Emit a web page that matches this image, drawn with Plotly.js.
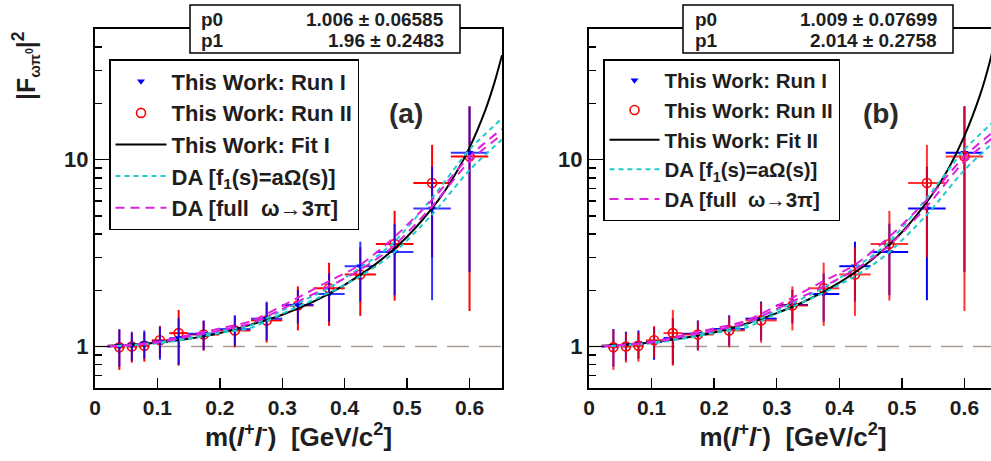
<!DOCTYPE html>
<html><head><meta charset="utf-8">
<script src="https://cdn.plot.ly/plotly-3.0.1.min.js"></script>
<style>html,body{margin:0;padding:0;overflow:hidden;background:#fff}#chart{width:1000px;height:461px}</style>
</head><body><div id="chart"></div>
<script>
// ---- data ----
const mass      = [0.039, 0.059, 0.079, 0.104, 0.134, 0.174, 0.224, 0.275, 0.325, 0.375, 0.425, 0.480, 0.540, 0.600];
const massErr   = [0.008, 0.008, 0.008, 0.013, 0.015, 0.025, 0.025, 0.025, 0.025, 0.025, 0.025, 0.030, 0.030, 0.030];
const runI      = [1.01, 1.02, 1.04, 1.06, 1.11, 1.17, 1.24, 1.41, 1.67, 1.91, 2.69, 3.21, 5.47, 10.9];
const runIErr   = [0.23, 0.18, 0.18, 0.21, 0.31, 0.21, 0.23, 0.33, 0.34, 0.55, 0.95, 1.33, 3.70, 8.4];
const runII     = [0.99, 1.00, 1.01, 1.08, 1.18, 1.16, 1.22, 1.38, 1.66, 2.05, 2.43, 3.54, 7.50, 10.4];
const runIIErr  = [0.24, 0.18, 0.18, 0.21, 0.39, 0.21, 0.23, 0.33, 0.44, 0.76, 0.97, 1.78, 4.50, 8.85];

const fitX      = [0.02, 0.05, 0.10, 0.15, 0.20, 0.25, 0.30, 0.35, 0.40, 0.45, 0.50, 0.55, 0.575, 0.60, 0.625, 0.64, 0.652];
const fitI      = [1.01, 1.02, 1.05, 1.10, 1.18, 1.31, 1.48, 1.74, 2.14, 2.77, 3.87, 6.07, 8.12, 11.6, 18.3, 25.9, 36.2];
const fitII     = [1.01, 1.02, 1.05, 1.11, 1.19, 1.32, 1.51, 1.78, 2.20, 2.88, 4.09, 6.61, 9.03, 13.4, 22.2, 32.9, 48.8];

const daX       = [0.02, 0.10, 0.15, 0.20, 0.25, 0.30, 0.375, 0.425, 0.475, 0.54, 0.60, 0.652];
const daMagUp   = [1.00, 1.06, 1.15, 1.25, 1.37, 1.65, 2.24, 2.74, 3.73, 6.10, 10.4, 14.6];
const daMagLo   = [1.00, 1.05, 1.13, 1.22, 1.33, 1.59, 2.10, 2.58, 3.37, 5.63, 9.8, 13.6];
const daCyUp    = [1.00, 1.05, 1.12, 1.21, 1.30, 1.56, 2.06, 2.64, 3.51, 6.24, 11.3, 16.6];
const daCyLo    = [1.00, 1.04, 1.10, 1.18, 1.26, 1.50, 1.94, 2.38, 3.10, 5.08, 8.8, 12.8];

const refX      = [0, 0.652];
const refY      = [1, 1];

const xTickVals = [0, 0.1, 0.2, 0.3, 0.4, 0.5, 0.6];
const xTickText = ['0', '0.1', '0.2', '0.3', '0.4', '0.5', '0.6'];
const yTickVals = [1, 10];
const yTickText = ['1', '10'];
const yMinorVals = [0.6, 0.7, 0.8, 0.9, 2, 3, 4, 5, 6, 7, 8, 9, 20, 30, 40, 50];

const statA = {p0: '1.006 \u00b1 0.06585', p1: '1.96 \u00b1 0.2483'};
const statB = {p0: '1.009 \u00b1 0.07699', p1: '2.014 \u00b1 0.2758'};

// ---- layout helpers ----
const W = 1000, H = 461;
const px = v => v / W;
const py = v => 1 - v / H;
const FONT = 'Liberation Sans, Arial, Helvetica, sans-serif';
const TXT = '#1e1e1e';

function panelTraces(xa, ya, leg, fitY, fitName, redOnTop) {
  const tr = [];
  tr.push({x: refX, y: refY, xaxis: xa, yaxis: ya, mode: 'lines', showlegend: false, hoverinfo: 'skip',
           line: {color: '#a89c92', width: 1.5, dash: '22px,10px'}});
  const blue = {x: mass, y: runI, xaxis: xa, yaxis: ya, mode: 'markers', name: 'This Work: Run I',
    legend: leg, legendgroup: leg + 'a', legendrank: 1,
    marker: {symbol: 'triangle-down', size: 7, color: '#0000ff'},
    error_y: {type: 'data', array: runIErr, color: redOnTop ? 'rgb(0,0,255)' : 'rgba(0,0,255,0.8)', thickness: 2, width: 0},
    error_x: {type: 'data', array: massErr, color: redOnTop ? 'rgb(0,0,255)' : 'rgba(0,0,255,0.8)', thickness: 2, width: 0}};
  const red = {x: mass, y: runII, xaxis: xa, yaxis: ya, mode: 'markers', name: 'This Work: Run II',
    legend: leg, legendgroup: leg + 'b', legendrank: 2,
    marker: {symbol: 'circle-open', size: 9, color: '#ff0000', line: {width: 1.6}},
    error_y: {type: 'data', array: runIIErr, color: redOnTop ? 'rgba(255,0,0,0.8)' : 'rgb(255,0,0)', thickness: 2, width: 0},
    error_x: {type: 'data', array: massErr, color: redOnTop ? 'rgba(255,0,0,0.8)' : 'rgb(255,0,0)', thickness: 2, width: 0}};
  if (redOnTop) { tr.push(blue, red); } else { tr.push(red, blue); }
  tr.push({x: fitX, y: fitY, xaxis: xa, yaxis: ya, mode: 'lines', name: fitName,
    legend: leg, legendgroup: leg + 'c', legendrank: 3,
    line: {color: '#000000', width: 2, shape: 'spline', smoothing: 0.8}});
  tr.push({x: daX, y: daCyUp, xaxis: xa, yaxis: ya, mode: 'lines', name: 'DA [f<sub>1</sub>(s)=a\u03a9(s)]',
    legend: leg, legendgroup: leg + 'd', legendrank: 4,
    line: {color: '#22cccc', width: 2, dash: '5px,4px', shape: 'spline', smoothing: 0.8}});
  tr.push({x: daX, y: daCyLo, xaxis: xa, yaxis: ya, mode: 'lines', showlegend: false,
    legend: leg, legendgroup: leg + 'd',
    line: {color: '#22cccc', width: 2, dash: '5px,4px', shape: 'spline', smoothing: 0.8}});
  tr.push({x: daX, y: daMagUp, xaxis: xa, yaxis: ya, mode: 'lines', name: 'DA [full  \u03c9\u21923\u03c0]',
    legend: leg, legendgroup: leg + 'e', legendrank: 5,
    line: {color: '#dd22dd', width: 2, dash: '9px,6px', shape: 'spline', smoothing: 0.8}});
  tr.push({x: daX, y: daMagLo, xaxis: xa, yaxis: ya, mode: 'lines', showlegend: false,
    legend: leg, legendgroup: leg + 'e',
    line: {color: '#dd22dd', width: 2, dash: '9px,6px', shape: 'spline', smoothing: 0.8}});
  return tr;
}

const data = [].concat(
  panelTraces('x', 'y', 'legend', fitI, 'This Work: Fit I', false),
  panelTraces('x2', 'y2', 'legend2', fitII, 'This Work: Fit II', true)
);

const xTitle = 'm(<i>l</i><sup>+</sup><i>l</i><sup>-</sup>)  [GeV/c<sup>2</sup>]';
function xAxis(d0, d1, anchor) {
  return {domain: [px(d0), px(d1)], range: [0, 0.652], anchor: anchor,
    tickmode: 'array', tickvals: xTickVals, ticktext: xTickText,
    ticks: 'inside', ticklen: 10, tickwidth: 1.5, tickcolor: '#000',
    showline: true, mirror: true, linecolor: '#000', linewidth: 2,
    showgrid: false, zeroline: false,
    tickfont: {family: FONT, size: 21, weight: 'bold', color: TXT},
    title: {text: xTitle, font: {family: FONT, size: 26, weight: 'bold', color: TXT}, standoff: 10}};
}
function yAxis(anchor) {
  return {domain: [py(388), py(29)], type: 'log', range: [-0.2218, 1.699], anchor: anchor,
    tickmode: 'array', tickvals: yTickVals, ticktext: yTickText,
    ticks: 'inside', ticklen: 15, tickwidth: 1.5, tickcolor: '#000',
    minor: {tickmode: 'array', tickvals: yMinorVals, ticks: 'inside', ticklen: 7, tickwidth: 1.5, tickcolor: '#000', showgrid: false},
    showline: true, mirror: true, linecolor: '#000', linewidth: 2,
    showgrid: false, zeroline: false,
    tickfont: {family: FONT, size: 22, weight: 'bold', color: TXT}};
}
function legendCfg(x, y, size, gap, iw) {
  return {x: px(x), y: py(y), xanchor: 'left', yanchor: 'top', bgcolor: '#fff',
    bordercolor: '#000', borderwidth: 1.5, traceorder: 'grouped', tracegroupgap: gap,
    itemwidth: iw, font: {family: FONT, size: size, weight: 'bold', color: TXT}};
}

const ann = [];
const shapes = [];
function statBox(x0, x1, lx, rx, st) {
  shapes.push({type: 'rect', xref: 'paper', yref: 'paper', layer: 'above',
    x0: px(x0), x1: px(x1), y0: py(53), y1: py(5), fillcolor: '#fff', line: {color: '#000', width: 1.5}});
  const f = {family: FONT, size: 19, weight: 'bold', color: TXT};
  ann.push({xref: 'paper', yref: 'paper', x: px(lx), y: py(19), xanchor: 'left', yanchor: 'middle', text: 'p0', showarrow: false, font: f});
  ann.push({xref: 'paper', yref: 'paper', x: px(lx), y: py(41), xanchor: 'left', yanchor: 'middle', text: 'p1', showarrow: false, font: f});
  ann.push({xref: 'paper', yref: 'paper', x: px(rx), y: py(19), xanchor: 'right', yanchor: 'middle', text: st.p0, showarrow: false, font: f});
  ann.push({xref: 'paper', yref: 'paper', x: px(rx), y: py(41), xanchor: 'right', yanchor: 'middle', text: st.p1, showarrow: false, font: f});
}
statBox(190, 460, 199, 446, statA);
statBox(683, 953, 693, 939, statB);

ann.push({xref: 'paper', yref: 'paper', x: px(406), y: py(96), text: '(a)', showarrow: false,
  font: {family: FONT, size: 28, weight: 'bold', color: '#2a2a2a'}});
ann.push({xref: 'paper', yref: 'paper', x: px(901), y: py(96), text: '(b)', showarrow: false,
  font: {family: FONT, size: 28, weight: 'bold', color: '#2a2a2a'}});
ann.push({xref: 'paper', yref: 'paper', x: px(25), y: py(66), xanchor: 'center', yanchor: 'middle',
  text: '|F<sub><span style="font-size:15px">\u03c9\u03c0<sup>0</sup></span></sub>|<sup>2</sup>',
  textangle: -90, showarrow: false, font: {family: FONT, size: 25, weight: 'bold', color: TXT}});

const layout = {
  width: W, height: H, margin: {l: 0, r: 0, t: 0, b: 0},
  paper_bgcolor: '#fff', plot_bgcolor: '#fff', showlegend: true,
  xaxis: xAxis(95, 502, 'y'), yaxis: yAxis('x'),
  xaxis2: xAxis(589, 997, 'y2'), yaxis2: yAxis('x2'),
  legend: legendCfg(109, 59, 22, 0, 51), legend2: legendCfg(603, 59, 20.5, 0, 50),
  shapes: shapes, annotations: ann
};

Plotly.newPlot('chart', data, layout, {displayModeBar: false, staticPlot: true});
</script></body></html>
